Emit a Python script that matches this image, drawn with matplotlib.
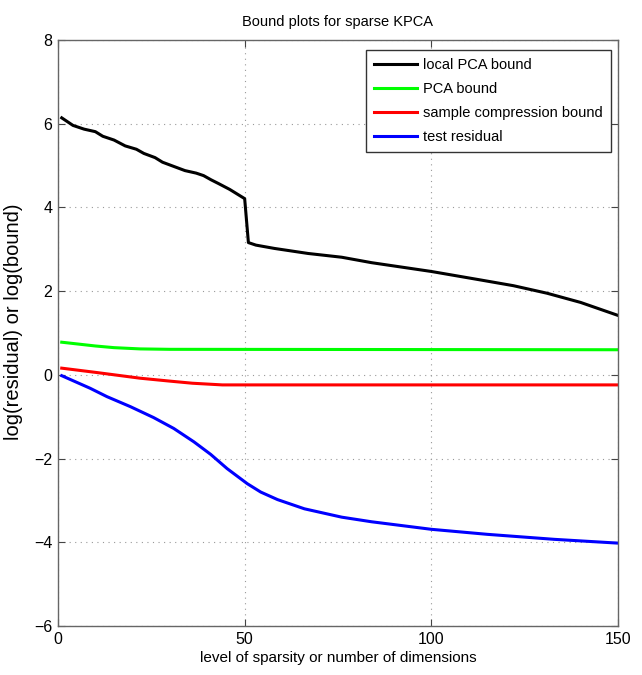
import matplotlib
matplotlib.use('Agg')
import matplotlib.pyplot as plt

plt.rcParams['font.family'] = ['Liberation Sans', 'DejaVu Sans']

# local PCA bound
x_local = [1, 2, 4, 7, 10, 12, 15, 18, 21, 23, 26, 28, 31, 34, 37, 39, 41, 43, 46, 48, 50,
           51, 53, 58, 67, 76, 84, 100, 113, 122, 131, 140, 150]
y_local = [6.14, 6.08, 5.96, 5.87, 5.81, 5.70, 5.61, 5.47, 5.39, 5.29, 5.19, 5.08, 4.98,
           4.88, 4.82, 4.76, 4.66, 4.57, 4.43, 4.32, 4.21,
           3.16, 3.10, 3.02, 2.90, 2.81, 2.68, 2.47, 2.27, 2.13, 1.95, 1.73, 1.42]
# PCA bound
x_pca = [1, 5, 10, 15, 22, 30, 150]
y_pca = [0.78, 0.74, 0.69, 0.65, 0.62, 0.61, 0.60]
# sample compression bound
x_comp = [1, 10, 22, 30, 36, 44, 150]
y_comp = [0.16, 0.06, -0.08, -0.15, -0.20, -0.24, -0.24]
# test residual
x_test = [1, 8.6, 13.1, 19.4, 25.6, 31, 36.4, 40.9, 45.3, 48.9, 50.7, 54.3, 58.8, 66,
          70, 76, 84, 100, 115, 133, 150]
y_test = [-0.02, -0.32, -0.52, -0.76, -1.02, -1.28, -1.6, -1.9, -2.24, -2.48, -2.6, -2.8,
          -2.98, -3.2, -3.28, -3.4, -3.51, -3.69, -3.81, -3.93, -4.02]

labels = ['local PCA bound', 'PCA bound', 'sample compression bound', 'test residual']

fig = plt.figure(figsize=(6.42, 6.75), dpi=100)
ax = fig.add_axes([58/642, 1-626/675, 560/642, 586/675])

lw = 2.2
ax.plot(x_local, y_local, color='black', lw=lw, label=labels[0])
ax.plot(x_pca, y_pca, color='#00ff00', lw=lw, label=labels[1])
ax.plot(x_comp, y_comp, color='red', lw=lw, label=labels[2])
ax.plot(x_test, y_test, color='blue', lw=lw, label=labels[3])

ax.set_xlim(0, 150)
ax.set_ylim(-6, 8)
ax.set_xticks([0, 50, 100, 150])
ax.set_yticks([-6, -4, -2, 0, 2, 4, 6, 8])
ax.tick_params(direction='in', top=True, right=True, labelsize=11.5, length=5,
               color='#444444', pad=4)
for s in ax.spines.values():
    s.set_color('#666666')
    s.set_linewidth(1.0)
ax.grid(True, linestyle=(0, (1, 4)), color='#999999', linewidth=0.8)

ax.set_title('Bound plots for sparse KPCA', fontsize=10.5, pad=10)
ax.set_xlabel('level of sparsity or number of dimensions', fontsize=11, labelpad=3)
ax.set_ylabel('log(residual) or log(bound)', fontsize=14.5)
ax.yaxis.set_label_coords(-0.062, 0.52)

leg = ax.legend(loc='upper right', bbox_to_anchor=(0.9875, 0.983), borderaxespad=0,
                fontsize=10.5, fancybox=False, framealpha=1, edgecolor='#333333',
                handlelength=3.0, labelspacing=0.68, handletextpad=0.4, borderpad=0.55)
leg.get_frame().set_linewidth(1.0)

fig.savefig('out.png', dpi=100)
